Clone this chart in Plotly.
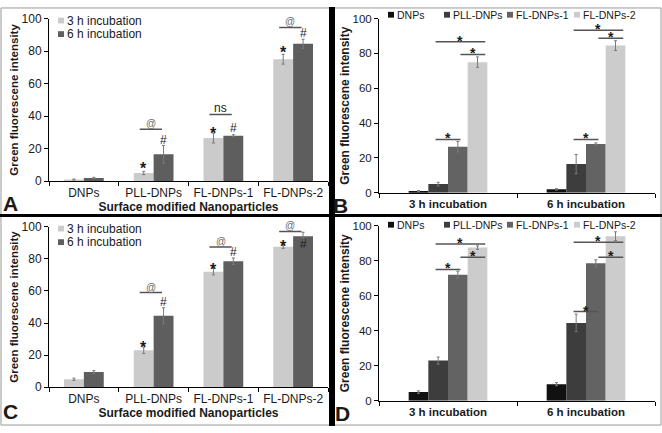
import plotly.graph_objects as go

W, H = 662, 433

# ---------------- data ----------------
nanoparticles = ["DNPs", "PLL-DNPs", "FL-DNPs-1", "FL-DNPs-2"]
timepoints = ["3 h incubation", "6 h incubation"]

# experiment 1 (panels A and B)
ab_3h = [1.0, 5.0, 26.5, 75.0]
ab_3h_err = [0.3, 1.0, 3.0, 3.0]
ab_6h = [2.0, 16.5, 28.0, 84.5]
ab_6h_err = [0.4, 5.5, 0.6, 2.8]

# experiment 2 (panels C and D)
cd_3h = [5.0, 23.0, 72.0, 87.5]
cd_3h_err = [0.7, 2.0, 2.0, 1.0]
cd_6h = [9.5, 44.5, 78.5, 94.0]
cd_6h_err = [0.9, 5.0, 2.0, 2.5]

y_ticks = [0, 20, 40, 60, 80, 100]

# ---------------- styles ----------------
FONT = "Liberation Sans, Arial, sans-serif"
TXT = "#1a1a1a"
time_colors = ["#cbcbcb", "#5e5e5e"]
np_colors = ["#111111", "#3d3d3d", "#636363", "#cccccc"]
ERR = "#7a7a7a"
LINE = "#555555"


def px_x(p):
    return p / W


def px_y(p):
    return 1 - p / H


fig = go.Figure()

# ---- panels A and C: grouped by nanoparticle, series = time ----
for ax, (v3, e3, v6, e6) in zip(["", "3"], [(ab_3h, ab_3h_err, ab_6h, ab_6h_err),
                                           (cd_3h, cd_3h_err, cd_6h, cd_6h_err)]):
    for name, vals, errs, col in [(timepoints[0], v3, e3, time_colors[0]),
                                  (timepoints[1], v6, e6, time_colors[1])]:
        fig.add_trace(go.Bar(
            x=nanoparticles, y=vals, name=name, marker_color=col,
            marker_line_width=0,
            error_y=dict(type="data", array=errs, color=ERR, thickness=1, width=1.5),
            xaxis="x" + ax, yaxis="y" + ax, showlegend=False,
            offsetgroup=name + ax,
        ))

# ---- panels B and D: grouped by time, series = nanoparticle ----
for ax, (v3, e3, v6, e6) in zip(["2", "4"], [(ab_3h, ab_3h_err, ab_6h, ab_6h_err),
                                            (cd_3h, cd_3h_err, cd_6h, cd_6h_err)]):
    for i, name in enumerate(nanoparticles):
        fig.add_trace(go.Bar(
            x=timepoints, y=[v3[i], v6[i]], name=name, marker_color=np_colors[i],
            marker_line_width=0,
            error_y=dict(type="data", array=[e3[i], e6[i]], color=ERR, thickness=1, width=1.5),
            xaxis="x" + ax, yaxis="y" + ax, showlegend=False,
            offsetgroup=name + ax,
        ))

# ---------------- axes ----------------
XL, XR = px_x(49), px_x(328)
XL2, XR2 = px_x(379), px_x(655)
dom = {
    "": ([XL, XR], [px_y(180), px_y(12)]),
    "2": ([XL2, XR2], [px_y(192), px_y(12)]),
    "3": ([XL, XR], [px_y(393), px_y(227)]),
    "4": ([XL2, XR2], [px_y(407), px_y(226)]),
}
layout_axes = {}
for ax, (xd, yd) in dom.items():
    two = ax in ("2", "4")
    layout_axes["xaxis" + ax] = dict(
        domain=xd, anchor="y" + ax, type="category",
        range=[-0.5, 1.5] if two else [-0.5, 3.5],
        showline=True, linecolor="#000", linewidth=1,
        ticks="outside", ticklen=4, tickcolor="#000", tickson="boundaries",
        tickfont=dict(family=FONT, size=11.5 if two else 12, color=TXT,
                      weight="bold" if two else "normal"),
        showgrid=False, zeroline=False, fixedrange=True,
        title=None if two else dict(text="<b>Surface modified Nanoparticles</b>",
                                    font=dict(family=FONT, size=12, color=TXT), standoff=1),
    )
    layout_axes["yaxis" + ax] = dict(
        domain=yd, anchor="x" + ax, range=[0, 100], tickvals=y_ticks,
        showline=True, linecolor="#000", linewidth=1,
        ticks="outside", ticklen=4, tickcolor="#000",
        tickfont=dict(family=FONT, size=11.5 if two else 12, color=TXT),
        showgrid=False, zeroline=False, fixedrange=True,
        title=dict(text="<b>Green fluorescene intensity</b>",
                   font=dict(family=FONT, size=12 if two else 11.5, color=TXT), standoff=0),
    )

annotations = []
shapes = []

# ---------- significance marks for A and C (category index coords) ----------
half = 0.1425  # offset of the two grouped bars from the category centre
# (axis, category, bar(0=3h,1=6h), label, y centre)
ac_marks = [
    ("", 1, 0, "*", 10), ("", 2, 0, "*", 31.5), ("", 3, 0, "*", 81.5),
    ("", 1, 1, "#", 25.6), ("", 2, 1, "#", 32.7), ("", 3, 1, "#", 91),
    ("3", 1, 0, "*", 27), ("3", 2, 0, "*", 76), ("3", 3, 0, "*", 90),
    ("3", 1, 1, "#", 53), ("3", 2, 1, "#", 84), ("3", 3, 1, "#", 89),
]
for ax, c, b, lab, y in ac_marks:
    xx = c + (-half if b == 0 else half)
    star = lab == "*"
    annotations.append(dict(
        x=xx, y=y, xref="x" + ax, yref="y" + ax, text=lab, showarrow=False,
        yshift=-4 if star else 0,
        font=dict(family=FONT, size=16 if star else 12, color=TXT,
                  weight="bold" if star else "normal"),
    ))

# (axis, category, y line, label)
ac_brackets = [
    ("", 1, 32, "@"), ("", 2, 41, "ns"), ("", 3, 94.6, "@"),
    ("3", 1, 59, "@"), ("3", 2, 87.3, "@"), ("3", 3, 97, "@"),
]
for ax, c, y, lab in ac_brackets:
    shapes.append(dict(type="line", xref="x" + ax, yref="y" + ax,
                       x0=c - 0.2, x1=c + 0.12, y0=y, y1=y,
                       line=dict(color=LINE, width=1.5)))
    annotations.append(dict(
        x=c - 0.04, y=y, xref="x" + ax, yref="y" + ax, text=lab, showarrow=False,
        yanchor="bottom", yshift=-2,
        font=dict(family=FONT, size=10 if lab == "@" else 12,
                  color="#6a6a6a" if lab == "@" else TXT),
    ))

# ---------- significance brackets for B and D ----------
slot = [-0.27, -0.09, 0.09, 0.27]
# (axis, time index, bar from, bar to, y line)
bd_brackets = [
    ("2", 0, 1, 2, 30.6), ("2", 0, 2, 3, 79.4), ("2", 0, 1, 3, 86.7),
    ("2", 1, 1, 2, 30.6), ("2", 1, 2, 3, 88.7), ("2", 1, 1, 3, 93.3),
    ("4", 0, 1, 2, 75), ("4", 0, 2, 3, 82), ("4", 0, 1, 3, 89.5),
    ("4", 1, 1, 2, 51), ("4", 1, 2, 3, 82), ("4", 1, 1, 3, 90.6),
]
for ax, t, a, b, y in bd_brackets:
    x0, x1 = t + slot[a], t + slot[b]
    shapes.append(dict(type="line", xref="x" + ax, yref="y" + ax,
                       x0=x0, x1=x1, y0=y, y1=y,
                       line=dict(color=LINE, width=1.5)))
    annotations.append(dict(
        x=(x0 + x1) / 2, y=y, xref="x" + ax, yref="y" + ax, text="*", showarrow=False,
        yanchor="bottom", yshift=-8, borderpad=0,
        font=dict(family=FONT, size=14, color=TXT, weight="bold"),
    ))

# ---------- custom legends ----------
def legend_item(px, py, color, label, size=12):
    shapes.append(dict(type="rect", xref="paper", yref="paper",
                       x0=px_x(px), x1=px_x(px + 6), y0=px_y(py + 3), y1=px_y(py - 3),
                       fillcolor=color, line=dict(width=0)))
    annotations.append(dict(x=px_x(px + 8), y=px_y(py), xref="paper", yref="paper",
                            text=label, showarrow=False, xanchor="left", yanchor="middle",
                            borderpad=0,
                            font=dict(family=FONT, size=size, color=TXT)))

legend_item(58, 14, time_colors[0], timepoints[0])
legend_item(58, 28, time_colors[1], timepoints[1])
legend_item(58, 229, time_colors[0], timepoints[0])
legend_item(58, 243, time_colors[1], timepoints[1])
for py in (8, 225):
    for x0, c, lab in zip([388, 444, 507, 574], np_colors, nanoparticles):
        legend_item(x0, py, c, lab, size=10.5)

# ---------- panel letters ----------
for lab, px, py in [("A", 10, 203), ("B", 340, 205), ("C", 10, 418), ("D", 342, 420)]:
    annotations.append(dict(x=px_x(px), y=px_y(py), xref="paper", yref="paper",
                            xanchor="center", yanchor="middle",
                            text="<b>" + lab + "</b>", showarrow=False,
                            font=dict(family=FONT, size=21, color=TXT)))

# ---------- panel dividers and frame ----------
shapes.append(dict(type="rect", xref="paper", yref="paper", x0=px_x(1), x1=px_x(661),
                   y0=px_y(432), y1=px_y(1), line=dict(color="#999", width=1)))
shapes.append(dict(type="rect", xref="paper", yref="paper", x0=px_x(329), x1=px_x(335),
                   y0=0, y1=1, fillcolor="#000", line=dict(width=0)))
shapes.append(dict(type="rect", xref="paper", yref="paper", x0=0, x1=1,
                   y0=px_y(217), y1=px_y(214), fillcolor="#000", line=dict(width=0)))

fig.update_layout(
    width=W, height=H, margin=dict(l=0, r=0, t=0, b=0),
    paper_bgcolor="white", plot_bgcolor="white",
    barmode="group", bargap=0.43, bargroupgap=0,
    font=dict(family=FONT, color=TXT),
    showlegend=False, annotations=annotations, shapes=shapes,
    **layout_axes,
)

fig.write_html("out.html", config={"displayModeBar": False},
               post_script="document.body.style.margin='0';")
